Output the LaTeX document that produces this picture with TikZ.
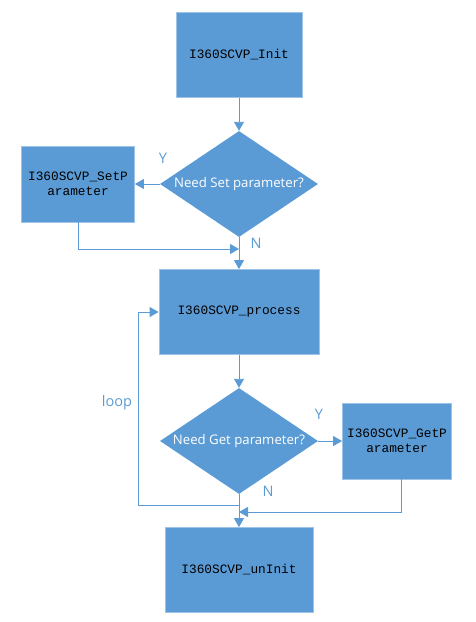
\documentclass[tikz,border=0pt]{standalone}
\usepackage{fontspec}
\setmainfont{Open Sans}
\setmonofont{Liberation Mono}
\usetikzlibrary{shapes.geometric,arrows.meta}
\definecolor{fc}{HTML}{5B9BD5}
\definecolor{bc}{HTML}{9DC3E6}
\begin{document}
\begin{tikzpicture}[x=1pt,y=-1pt,
  proc/.style={rectangle,fill=fc,draw=bc,line width=0.8pt,inner sep=2pt,
    font=\ttfamily\fontsize{12.8}{15.5}\selectfont,text=black,align=center},
  dec/.style={diamond,fill=fc,draw=none,inner sep=0pt,
    font=\fontsize{13.2}{15}\selectfont,text=white,
    minimum width=158pt,minimum height=106pt,aspect=1.49},
  conn/.style={draw=fc,line width=0.9pt,-{Triangle[width=10pt,length=9pt]}},
  lbl/.style={text=fc,font=\fontsize{14.5}{16}\selectfont,inner sep=0pt}]
\useasboundingbox (0,0) rectangle (475,622);
\node[proc,minimum width=126pt,minimum height=85pt] (init) at (239,55) {I360SCVP\_Init};
\node[dec] (d1) at (239,184) {Need Set parameter?};
\node[proc,minimum width=113pt,minimum height=76pt] (setp) at (78,184) {I360SCVP\_SetP\\arameter};
\node[proc,minimum width=160pt,minimum height=85pt] (proc) at (239,312) {I360SCVP\_process};
\node[dec] (d2) at (239,441) {Need Get parameter?};
\node[proc,minimum width=109pt,minimum height=76pt] (getp) at (397,441) {I360SCVP\_GetP\\arameter};
\node[proc,minimum width=148pt,minimum height=85pt] (uninit) at (239,570) {I360SCVP\_unInit};
\coordinate (j1) at (239,249);
\coordinate (j2) at (239,505);
\coordinate (j3) at (239,512);
\draw[conn] (init) -- (d1);
\draw[conn] (d1) -- (setp);
\draw[conn] (d1.south) -- (proc.north);
\draw[conn] (setp.south) |- (j1);
\draw[conn] (proc) -- (d2);
\draw[conn] (d2) -- (getp);
\draw[conn] (d2.south) -- (uninit.north);
\draw[conn] (j2) -- (138,505) |- (proc.west);
\draw[conn] ([xshift=4pt]getp.south) |- (j3);
\node[lbl] (ly1) at (163,158) {Y};
\node[lbl] (ln1) at (256,243) {N};
\node[lbl] (lloop) at (117,403) {loop};
\node[lbl] (ly2) at (319,414) {Y};
\node[lbl] (ln2) at (268,491) {N};
\end{tikzpicture}
\end{document}
